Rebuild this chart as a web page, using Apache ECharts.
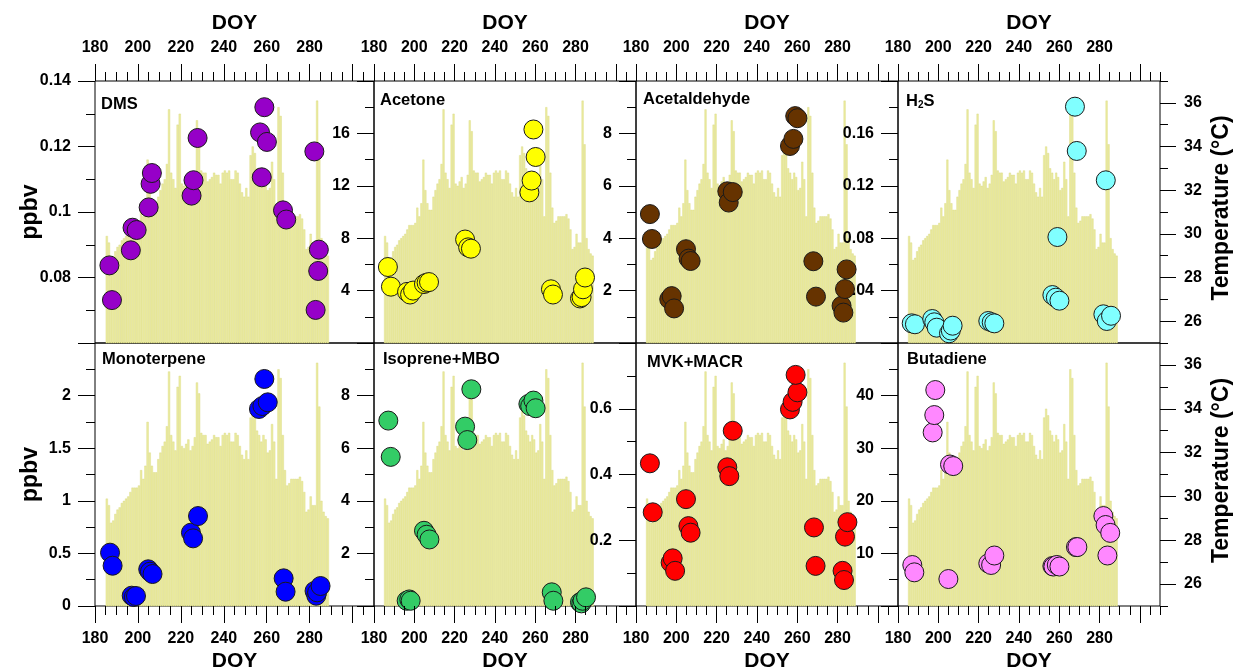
<!DOCTYPE html>
<html>
<head>
<meta charset="utf-8">
<script src="https://cdn.jsdelivr.net/npm/echarts@6.0.0/dist/echarts.min.js"></script>
<style>
    html, body {
        margin: 0;
        padding: 0;
        background: #fff;
    }

    #chart {
        width: 1235px;
        height: 671px;
    }
</style>
</head>
<body>
<div id="chart"></div>
<script>
const FONT = '"Liberation Sans", Arial, Helvetica, sans-serif'

// daily temperature (°C), one bar per day starting at DOY 186
const tempStartDoy = 186
const temperature = [
    29.9, 29.6, 28.8, 28.9, 29.2, 29.4, 29.5, 29.7, 29.8, 29.9,
    30.0, 30.2, 30.4, 30.4, 30.4, 30.5, 31.2, 30.8, 31.4, 33.4,
    32.0, 31.4, 31.1, 31.1, 31.7, 32.0, 32.3, 32.5, 33.2, 35.7,
    32.8, 32.5, 32.1, 35.0, 35.5, 32.3, 32.2, 32.4, 32.6, 32.1,
    32.3, 32.7, 35.2, 34.7, 32.9, 32.8, 32.8, 32.4, 32.5, 32.6,
    32.8, 32.7,
    32.7, 32.3, 32.8, 32.9, 32.8, 32.9, 32.5, 32.5, 32.9, 32.8,
    32.3, 31.9, 31.7, 32.1, 31.7, 33.6, 34.0, 33.7, 33.0, 32.8,
    32.5, 32.8, 32.6, 32.0, 32.1, 33.3, 32.5, 30.8, 35.8, 35.4,
    32.8, 31.2, 30.5, 30.6, 30.8, 30.8, 30.8, 30.8, 30.9, 30.7,
    30.2, 29.3, 29.4, 30.0, 29.6, 29.6, 36.1, 34.1, 29.8, 29.3,
    29.1, 29.0
]

// mixing ratios (ppbv) by sampling DOY
const dmsDoy = [186.7, 187.9, 196.7, 197.5, 199.4, 205.0, 205.9, 206.5, 225.0, 225.9, 227.8, 256.9, 258.9, 260.1, 257.7, 267.6, 269.1, 282.2, 284.3, 284.0, 282.8]
const dmsPpbv = [0.0837, 0.0731, 0.0883, 0.0952, 0.0945, 0.1014, 0.1086, 0.1119, 0.105, 0.1097, 0.1226, 0.1243, 0.132, 0.1214, 0.1106, 0.1005, 0.0977, 0.1185, 0.0885, 0.082, 0.0701]

const acetoneDoy = [186.9, 188.4, 196.4, 197.9, 199.4, 204.8, 206.1, 207.3, 225.2, 226.7, 228.1, 257.1, 258.2, 260.2, 259.1, 267.8, 268.8, 282.2, 283.0, 283.7, 284.7]
const acetonePpbv = [5.8, 4.3, 3.9, 3.7, 4.0, 4.5, 4.6, 4.65, 7.9, 7.3, 7.2, 11.5, 12.4, 14.2, 16.3, 4.1, 3.7, 3.4, 3.5, 4.1, 5.0]

const acetaldehydeDoy = [186.9, 187.9, 196.5, 197.7, 198.9, 204.8, 206.1, 207.1, 225.3, 226.0, 228.0, 256.4, 258.1, 259.0, 260.1, 268.0, 269.3, 282.0, 282.9, 283.7, 284.5]
const acetaldehydePpbv = [4.92, 3.97, 1.67, 1.79, 1.32, 3.58, 3.22, 3.13, 5.79, 5.36, 5.76, 7.52, 7.79, 8.66, 8.58, 3.12, 1.77, 1.42, 1.16, 2.06, 2.81]

const h2sDoy = [186.8, 188.4, 197.0, 198.0, 199.2, 205.3, 206.2, 207.1, 224.8, 226.5, 227.8, 256.6, 258.3, 260.1, 259.1, 267.8, 268.7, 281.9, 283.1, 283.6, 285.7]
const h2sPpbv = [0.015, 0.0143, 0.0183, 0.0158, 0.0117, 0.0074, 0.0095, 0.0132, 0.0168, 0.0158, 0.015, 0.0366, 0.0346, 0.0323, 0.0809, 0.1804, 0.1466, 0.0219, 0.1242, 0.0168, 0.0208]

const monoterpeneDoy = [187.0, 188.2, 197.1, 198.1, 199.1, 204.8, 205.6, 206.8, 224.7, 225.7, 228.0, 256.4, 258.0, 260.5, 258.9, 267.9, 268.8, 282.3, 283.1, 283.5, 285.1]
const monoterpenePpbv = [0.507, 0.383, 0.098, 0.085, 0.095, 0.349, 0.326, 0.304, 0.697, 0.643, 0.855, 1.873, 1.901, 1.936, 2.158, 0.263, 0.136, 0.143, 0.098, 0.13, 0.19]

const isopreneDoy = [187.1, 188.3, 196.2, 197.5, 198.2, 204.8, 206.1, 207.5, 225.2, 226.3, 228.3, 256.6, 257.5, 259.1, 260.2, 268.2, 269.0, 282.2, 282.9, 283.5, 285.2]
const isoprenePpbv = [7.05, 5.67, 0.2, 0.25, 0.2, 2.86, 2.71, 2.53, 6.82, 6.31, 8.24, 7.68, 7.6, 7.81, 7.52, 0.52, 0.2, 0.14, 0.1, 0.2, 0.33]

const mvkDoy = [186.9, 188.3, 197.2, 198.2, 199.4, 204.8, 206.0, 207.1, 225.3, 226.3, 228.0, 256.4, 257.7, 260.1, 259.2, 268.3, 269.1, 282.5, 283.2, 283.7, 284.9]
const mvkPpbv = [0.434, 0.285, 0.132, 0.145, 0.107, 0.325, 0.243, 0.223, 0.422, 0.395, 0.533, 0.598, 0.621, 0.65, 0.703, 0.239, 0.122, 0.107, 0.079, 0.211, 0.255]

const butadieneDoy = [187.1, 188.1, 197.2, 198.0, 198.5, 205.0, 205.8, 207.4, 224.8, 226.2, 227.8, 256.6, 257.1, 258.8, 260.1, 268.3, 269.0, 281.9, 283.0, 283.9, 285.3]
const butadienePpbv = [7.79, 6.4, 33.0, 36.3, 41.06, 5.13, 26.9, 26.6, 8.1, 7.8, 9.6, 7.6, 7.5, 7.8, 7.5, 11.2, 11.2, 17.1, 15.4, 9.6, 13.9]

// axis ticks
const doyMajor = [180, 200, 220, 240, 260, 280, 300]
const doyLabels = [180, 200, 220, 240, 260, 280]
const tempMajor = [26, 28, 30, 32, 34, 36]

const panels = [
    {title: 'DMS', doy: dmsDoy, val: dmsPpbv, color: '#9600c8', min: 0.06, max: 0.14, major: [0.06, 0.08, 0.1, 0.12, 0.14], labels: [0.08, 0.1, 0.12, 0.14], minor: 0.01, tx: 6, ty: 23},
    {title: 'Acetone', doy: acetoneDoy, val: acetonePpbv, color: '#ffff00', min: 0, max: 20, major: [0, 4, 8, 12, 16, 20], labels: [4, 8, 12, 16], minor: 2, tx: 6, ty: 19},
    {title: 'Acetaldehyde', doy: acetaldehydeDoy, val: acetaldehydePpbv, color: '#663300', min: 0, max: 10, major: [0, 2, 4, 6, 8, 10], labels: [2, 4, 6, 8], minor: 1, tx: 7, ty: 18},
    {title: '{b|H}{s|2}{b|S}', doy: h2sDoy, val: h2sPpbv, color: '#80ffff', min: 0, max: 0.2, major: [0, 0.04, 0.08, 0.12, 0.16, 0.2], labels: [0.04, 0.08, 0.12, 0.16], minor: 0.02, tx: 8, ty: 20},
    {title: 'Monoterpene', doy: monoterpeneDoy, val: monoterpenePpbv, color: '#0000ff', min: 0, max: 2.5, major: [0, 0.5, 1, 1.5, 2, 2.5], labels: [0, 0.5, 1, 1.5, 2], minor: 0.25, tx: 7, ty: 16},
    {title: 'Isoprene+MBO', doy: isopreneDoy, val: isoprenePpbv, color: '#33cc66', min: 0, max: 10, major: [0, 2, 4, 6, 8, 10], labels: [2, 4, 6, 8], minor: 1, tx: 9, ty: 16},
    {title: 'MVK+MACR', doy: mvkDoy, val: mvkPpbv, color: '#ff0000', min: 0, max: 0.8, major: [0, 0.2, 0.4, 0.6, 0.8], labels: [0.2, 0.4, 0.6], minor: 0.1, tx: 11, ty: 19},
    {title: 'Butadiene', doy: butadieneDoy, val: butadienePpbv, color: '#ff88ff', min: 0, max: 50, major: [0, 10, 20, 30, 40, 50], labels: [10, 20, 30, 40], minor: 5, tx: 9, ty: 16}
]

const cols = [{left: 95, width: 279}, {left: 374, width: 262}, {left: 636, width: 262}, {left: 898, width: 262}]
const rows = [{top: 81, height: 262}, {top: 343, height: 263}]

const labelStyle = {fontSize: 16, fontWeight: 'bold', color: '#000', fontFamily: FONT}
const fmt = v => String(parseFloat(Number(v).toFixed(4)))

const grids = [], xAxes = [], yAxes = [], series = [], graphics = []
const tempData = temperature.map((t, i) => [tempStartDoy + i - 0.5, t])

panels.forEach((p, i) => {
    const row = Math.floor(i / 4), col = i % 4
    const pos = row === 0 ? 'top' : 'bottom'
    grids.push({
        left: cols[col].left, top: rows[row].top,
        width: cols[col].width, height: rows[row].height,
        show: true, borderColor: '#000', borderWidth: 1,
        backgroundColor: 'transparent'
    })
    // DOY: major ticks + labels, then minor ticks
    xAxes.push({
        gridIndex: i, type: 'value', min: 180, max: 310, position: pos, z: 4,
        axisLine: {show: false, onZero: false},
        axisTick: {customValues: doyMajor, length: 17, lineStyle: {color: '#000'}},
        axisLabel: Object.assign({customValues: doyLabels, margin: 25}, labelStyle),
        splitLine: {show: false}
    })
    xAxes.push({
        gridIndex: i, type: 'value', min: 180, max: 310, interval: 5, position: pos, z: 4,
        axisLine: {show: false, onZero: false},
        axisTick: {length: 9, lineStyle: {color: '#000'}},
        axisLabel: {show: false},
        splitLine: {show: false}
    })
    // ppbv left: labels sit above the neighbour's bars but under its circles
    yAxes.push({
        gridIndex: i, type: 'value', position: 'left', min: p.min, max: p.max, z: 2,
        axisLine: {show: false, onZero: false},
        axisTick: {customValues: p.major, length: 17, lineStyle: {color: '#000'}},
        axisLabel: Object.assign({customValues: p.labels, margin: 24, formatter: fmt}, labelStyle),
        splitLine: {show: false}
    })
    yAxes.push({
        gridIndex: i, type: 'value', position: 'left', min: p.min, max: p.max, interval: p.minor, z: 2,
        axisLine: {show: false, onZero: false},
        axisTick: {length: 9, lineStyle: {color: '#000'}},
        axisLabel: {show: false},
        splitLine: {show: false}
    })
    // temperature right (only drawn on the last column)
    const showT = col === 3
    yAxes.push({
        gridIndex: i, type: 'value', position: 'right', min: 25, max: 37, show: showT, z: 2,
        axisLine: {show: false, onZero: false},
        axisTick: {customValues: tempMajor, length: 16, lineStyle: {color: '#000'}},
        axisLabel: Object.assign({customValues: tempMajor, margin: 24}, labelStyle),
        splitLine: {show: false}
    })
    yAxes.push({
        gridIndex: i, type: 'value', position: 'right', min: 25, max: 37, interval: 1, show: showT, z: 2,
        axisLine: {show: false, onZero: false},
        axisTick: {length: 8, lineStyle: {color: '#000'}},
        axisLabel: {show: false},
        splitLine: {show: false}
    })

    series.push({
        type: 'bar', xAxisIndex: i * 2, yAxisIndex: i * 4 + 2,
        data: tempData, barWidth: '100%', clip: true, silent: true,
        itemStyle: {color: '#ececa0', borderColor: '#d6d67c', borderWidth: 0.4},
        z: 1
    })
    series.push({
        type: 'scatter', xAxisIndex: i * 2, yAxisIndex: i * 4,
        data: p.doy.map((d, k) => [d, p.val[k]]),
        symbol: 'circle', symbolSize: 19,
        itemStyle: {color: p.color, borderColor: '#1a1a1a', borderWidth: 1, opacity: 1},
        z: 3
    })

    graphics.push({
        type: 'text', x: cols[col].left + p.tx, y: rows[row].top + p.ty, z: 10,
        style: {
            text: p.title, align: 'left', verticalAlign: 'middle', fill: '#000',
            font: 'bold 16.5px ' + FONT,
            rich: {
                b: {fontSize: 16.5, fontWeight: 'bold', fontFamily: FONT, fill: '#000'},
                s: {fontSize: 10, fontWeight: 'bold', fontFamily: FONT, fill: '#000', padding: [9, 0, 0, 0]}
            }
        }
    })
})

// axis titles
cols.forEach(c => {
    const cx = c.left + c.width / 2
    graphics.push({type: 'text', x: cx, y: 23, style: {text: 'DOY', align: 'center', verticalAlign: 'middle', font: 'bold 21px ' + FONT, fill: '#000'}})
    graphics.push({type: 'text', x: cx, y: 661, style: {text: 'DOY', align: 'center', verticalAlign: 'middle', font: 'bold 21px ' + FONT, fill: '#000'}})
})
rows.forEach(r => {
    const cy = r.top + r.height / 2
    graphics.push({type: 'text', x: 31, y: cy, rotation: Math.PI / 2, style: {text: 'ppbv', align: 'center', verticalAlign: 'middle', font: 'bold 23px ' + FONT, fill: '#000'}})
    graphics.push({type: 'text', x: 1222, y: cy - 4, rotation: Math.PI / 2, style: {text: 'Temperature (°C)', align: 'center', verticalAlign: 'middle', font: 'bold 23px ' + FONT, fill: '#000'}})
})

const chart = echarts.init(document.getElementById('chart'), null, {renderer: 'canvas'})
chart.setOption({
    backgroundColor: '#fff',
    animation: false,
    grid: grids,
    xAxis: xAxes,
    yAxis: yAxes,
    series: series,
    graphic: graphics
})
</script>
</body>
</html>
